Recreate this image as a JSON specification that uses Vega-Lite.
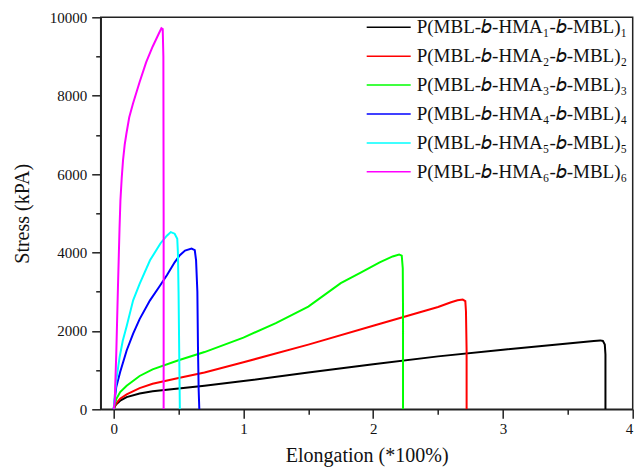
{
  "$schema": "https://vega.github.io/schema/vega-lite/v6.json",
  "width": 532,
  "height": 392,
  "autosize": "none",
  "padding": {"left": 100.7, "top": 17.3, "right": 3.3, "bottom": 58.7},
  "background": "white",
  "config": {
    "font": "Liberation Serif",
    "view": {"stroke": "#222222", "strokeWidth": 1.5},
    "axis": {
      "labelFont": "Liberation Serif",
      "titleFont": "Liberation Serif",
      "labelFontSize": 15,
      "titleFontSize": 20,
      "titleFontWeight": "normal",
      "labelColor": "#111111",
      "titleColor": "#111111",
      "domainColor": "#222222",
      "tickColor": "#222222",
      "domainWidth": 1.5,
      "tickWidth": 1.5,
      "grid": false,
      "labelOverlap": false
    }
  },
  "data": {
    "values": [
      {"s": "1", "i": 0, "x": 0, "y": 0},
      {"s": "1", "i": 1, "x": 0.01, "y": 80},
      {"s": "1", "i": 2, "x": 0.02, "y": 130},
      {"s": "1", "i": 3, "x": 0.05, "y": 220},
      {"s": "1", "i": 4, "x": 0.1, "y": 310},
      {"s": "1", "i": 5, "x": 0.2, "y": 405},
      {"s": "1", "i": 6, "x": 0.3, "y": 460},
      {"s": "1", "i": 7, "x": 0.5, "y": 530},
      {"s": "1", "i": 8, "x": 0.7, "y": 600},
      {"s": "1", "i": 9, "x": 1.0, "y": 720},
      {"s": "1", "i": 10, "x": 1.5, "y": 940},
      {"s": "1", "i": 11, "x": 2.0, "y": 1150},
      {"s": "1", "i": 12, "x": 2.5, "y": 1350},
      {"s": "1", "i": 13, "x": 3.0, "y": 1520},
      {"s": "1", "i": 14, "x": 3.5, "y": 1680},
      {"s": "1", "i": 15, "x": 3.7, "y": 1740},
      {"s": "1", "i": 16, "x": 3.75, "y": 1758},
      {"s": "1", "i": 17, "x": 3.77, "y": 1745},
      {"s": "1", "i": 18, "x": 3.785, "y": 1650},
      {"s": "1", "i": 19, "x": 3.79, "y": 1400},
      {"s": "1", "i": 20, "x": 3.79, "y": 0},

      {"s": "2", "i": 0, "x": 0, "y": 0},
      {"s": "2", "i": 1, "x": 0.01, "y": 90},
      {"s": "2", "i": 2, "x": 0.02, "y": 150},
      {"s": "2", "i": 3, "x": 0.05, "y": 270},
      {"s": "2", "i": 4, "x": 0.1, "y": 380},
      {"s": "2", "i": 5, "x": 0.2, "y": 540},
      {"s": "2", "i": 6, "x": 0.3, "y": 650},
      {"s": "2", "i": 7, "x": 0.5, "y": 800},
      {"s": "2", "i": 8, "x": 0.7, "y": 940},
      {"s": "2", "i": 9, "x": 1.0, "y": 1200},
      {"s": "2", "i": 10, "x": 1.5, "y": 1650},
      {"s": "2", "i": 11, "x": 2.0, "y": 2130},
      {"s": "2", "i": 12, "x": 2.3, "y": 2420},
      {"s": "2", "i": 13, "x": 2.5, "y": 2610},
      {"s": "2", "i": 14, "x": 2.6, "y": 2730},
      {"s": "2", "i": 15, "x": 2.65, "y": 2780},
      {"s": "2", "i": 16, "x": 2.69, "y": 2800},
      {"s": "2", "i": 17, "x": 2.71, "y": 2760},
      {"s": "2", "i": 18, "x": 2.715, "y": 2500},
      {"s": "2", "i": 19, "x": 2.72, "y": 1500},
      {"s": "2", "i": 20, "x": 2.72, "y": 0},

      {"s": "3", "i": 0, "x": 0, "y": 0},
      {"s": "3", "i": 1, "x": 0.01, "y": 150},
      {"s": "3", "i": 2, "x": 0.02, "y": 260},
      {"s": "3", "i": 3, "x": 0.05, "y": 440},
      {"s": "3", "i": 4, "x": 0.1, "y": 600},
      {"s": "3", "i": 5, "x": 0.2, "y": 850},
      {"s": "3", "i": 6, "x": 0.3, "y": 1020},
      {"s": "3", "i": 7, "x": 0.5, "y": 1250},
      {"s": "3", "i": 8, "x": 0.7, "y": 1460},
      {"s": "3", "i": 9, "x": 1.0, "y": 1830},
      {"s": "3", "i": 10, "x": 1.25, "y": 2200},
      {"s": "3", "i": 11, "x": 1.5, "y": 2620},
      {"s": "3", "i": 12, "x": 1.75, "y": 3220},
      {"s": "3", "i": 13, "x": 1.9, "y": 3480},
      {"s": "3", "i": 14, "x": 2.05, "y": 3750},
      {"s": "3", "i": 15, "x": 2.15, "y": 3900},
      {"s": "3", "i": 16, "x": 2.2, "y": 3950},
      {"s": "3", "i": 17, "x": 2.22, "y": 3920},
      {"s": "3", "i": 18, "x": 2.228, "y": 3600},
      {"s": "3", "i": 19, "x": 2.23, "y": 2500},
      {"s": "3", "i": 20, "x": 2.23, "y": 0},

      {"s": "4", "i": 0, "x": 0, "y": 0},
      {"s": "4", "i": 1, "x": 0.01, "y": 300},
      {"s": "4", "i": 2, "x": 0.02, "y": 570},
      {"s": "4", "i": 3, "x": 0.05, "y": 950},
      {"s": "4", "i": 4, "x": 0.1, "y": 1500},
      {"s": "4", "i": 5, "x": 0.15, "y": 1930},
      {"s": "4", "i": 6, "x": 0.2, "y": 2300},
      {"s": "4", "i": 7, "x": 0.28, "y": 2780},
      {"s": "4", "i": 8, "x": 0.35, "y": 3120},
      {"s": "4", "i": 9, "x": 0.41, "y": 3420},
      {"s": "4", "i": 10, "x": 0.47, "y": 3750},
      {"s": "4", "i": 11, "x": 0.51, "y": 3930},
      {"s": "4", "i": 12, "x": 0.55, "y": 4050},
      {"s": "4", "i": 13, "x": 0.6, "y": 4100},
      {"s": "4", "i": 14, "x": 0.625, "y": 4060},
      {"s": "4", "i": 15, "x": 0.635, "y": 3800},
      {"s": "4", "i": 16, "x": 0.645, "y": 3000},
      {"s": "4", "i": 17, "x": 0.65, "y": 1500},
      {"s": "4", "i": 18, "x": 0.655, "y": 500},
      {"s": "4", "i": 19, "x": 0.66, "y": 0},

      {"s": "5", "i": 0, "x": 0, "y": 0},
      {"s": "5", "i": 1, "x": 0.01, "y": 400},
      {"s": "5", "i": 2, "x": 0.02, "y": 740},
      {"s": "5", "i": 3, "x": 0.046, "y": 1335},
      {"s": "5", "i": 4, "x": 0.07, "y": 1750},
      {"s": "5", "i": 5, "x": 0.1, "y": 2120},
      {"s": "5", "i": 6, "x": 0.15, "y": 2780},
      {"s": "5", "i": 7, "x": 0.2, "y": 3200},
      {"s": "5", "i": 8, "x": 0.28, "y": 3800},
      {"s": "5", "i": 9, "x": 0.36, "y": 4230},
      {"s": "5", "i": 10, "x": 0.41, "y": 4430},
      {"s": "5", "i": 11, "x": 0.44, "y": 4520},
      {"s": "5", "i": 12, "x": 0.47, "y": 4480},
      {"s": "5", "i": 13, "x": 0.49, "y": 4350},
      {"s": "5", "i": 14, "x": 0.495, "y": 4000},
      {"s": "5", "i": 15, "x": 0.5, "y": 3000},
      {"s": "5", "i": 16, "x": 0.505, "y": 1500},
      {"s": "5", "i": 17, "x": 0.51, "y": 0},

      {"s": "6", "i": 0, "x": 0, "y": 0},
      {"s": "6", "i": 1, "x": 0.008, "y": 200},
      {"s": "6", "i": 2, "x": 0.02, "y": 1420},
      {"s": "6", "i": 3, "x": 0.033, "y": 3120},
      {"s": "6", "i": 4, "x": 0.045, "y": 4600},
      {"s": "6", "i": 5, "x": 0.052, "y": 5330},
      {"s": "6", "i": 6, "x": 0.062, "y": 5900},
      {"s": "6", "i": 7, "x": 0.072, "y": 6350},
      {"s": "6", "i": 8, "x": 0.085, "y": 6750},
      {"s": "6", "i": 9, "x": 0.098, "y": 7030},
      {"s": "6", "i": 10, "x": 0.12, "y": 7450},
      {"s": "6", "i": 11, "x": 0.149, "y": 7800},
      {"s": "6", "i": 12, "x": 0.2, "y": 8350},
      {"s": "6", "i": 13, "x": 0.25, "y": 8850},
      {"s": "6", "i": 14, "x": 0.3, "y": 9250},
      {"s": "6", "i": 15, "x": 0.35, "y": 9600},
      {"s": "6", "i": 16, "x": 0.368, "y": 9720},
      {"s": "6", "i": 17, "x": 0.378, "y": 9700},
      {"s": "6", "i": 18, "x": 0.383, "y": 9000},
      {"s": "6", "i": 19, "x": 0.385, "y": 5000},
      {"s": "6", "i": 20, "x": 0.385, "y": 0}
    ]
  },
  "mark": {"type": "line", "strokeWidth": 2, "clip": true},
  "encoding": {
    "x": {
      "field": "x", "type": "quantitative",
      "scale": {"domain": [-0.1, 4], "nice": false, "zero": false},
      "axis": {
        "title": "Elongation (*100%)",
        "values": [0, 0.5, 1, 1.5, 2, 2.5, 3, 3.5, 4],
        "labelExpr": "datum.value % 1 === 0 ? format(datum.value, 'd') : ''",
        "tickSize": {"condition": {"test": "datum.value % 1 !== 0", "value": 5}, "value": 9},
        "labelPadding": 3,
        "titlePadding": 9,
        "labelFont": "Liberation Serif",
        "titleFont": "Liberation Serif"
      }
    },
    "y": {
      "field": "y", "type": "quantitative",
      "scale": {"domain": [0, 10000], "nice": false},
      "axis": {
        "title": "Stress (kPA)",
        "values": [0, 1000, 2000, 3000, 4000, 5000, 6000, 7000, 8000, 9000, 10000],
        "labelExpr": "datum.value % 2000 === 0 ? format(datum.value, 'd') : ''",
        "tickSize": {"condition": {"test": "datum.value % 2000 !== 0", "value": 5}, "value": 9},
        "labelPadding": 5,
        "titlePadding": 17,
        "labelFont": "Liberation Serif",
        "titleFont": "Liberation Serif"
      }
    },
    "color": {
      "field": "s", "type": "nominal",
      "scale": {"domain": ["1", "2", "3", "4", "5", "6"], "range": ["#000000", "#ff0000", "#00ff00", "#0000ff", "#00ffff", "#ff00ff"]},
      "legend": {
        "title": null,
        "orient": "none",
        "legendX": 265,
        "legendY": 0,
        "padding": 0,
        "symbolType": "stroke",
        "symbolSize": 1936,
        "symbolStrokeWidth": 1.5,
        "clipHeight": 20,
        "rowPadding": 8.9,
        "labelOffset": 5,
        "labelFont": "Liberation Serif",
        "labelFontSize": 19,
        "labelColor": "#111111",
        "labelLimit": 400,
        "labelExpr": "'P(MBL-𝑏-HMA' + ['₁','₂','₃','₄','₅','₆'][toNumber(datum.value) - 1] + '-𝑏-MBL)' + ['₁','₂','₃','₄','₅','₆'][toNumber(datum.value) - 1]"
      }
    },
    "order": {"field": "i", "type": "quantitative"}
  }
}
